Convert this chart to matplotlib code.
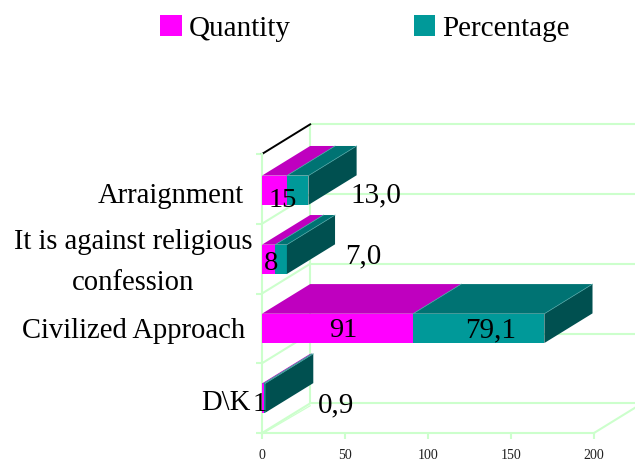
import matplotlib
matplotlib.use("Agg")
import matplotlib.pyplot as plt
from matplotlib.patches import Polygon, Patch

plt.rcParams['font.family'] = ['Liberation Serif', 'DejaVu Serif']

categories = ["D\\K", "Civilized Approach", "It is against religious\nconfession", "Arraignment"]
quantity = [1, 91, 8, 15]
percentage = [0.9, 79.1, 7.0, 13.0]
quantity_labels = ["1", "91", "8", "15"]
percentage_labels = ["0,9", "79,1", "7,0", "13,0"]
x_ticks = [0, 50, 100, 150, 200]

W, H = 635, 462
GREEN = "#CCFFCC"
MAG, MAG_TOP = "#FF00FF", "#BF00BF"
TEAL, TEAL_TOP, TEAL_SIDE = "#009999", "#007373", "#005050"
DX, DY = 29.0, 0.425     # 3-D depth in data units
BAR_H = 0.42

fig = plt.figure(figsize=(W / 100, H / 100), dpi=100, facecolor="white")
ax = fig.add_axes([262 / W, (H - 433) / H, (594 - 262) / W, (433 - 154) / H])
ax.set_xlim(0, 200)
ax.set_ylim(-0.5, 3.5)
ax.patch.set_visible(False)
for s in ("top", "right"):
    ax.spines[s].set_visible(False)
for s in ("left", "bottom"):
    ax.spines[s].set_color(GREEN)
    ax.spines[s].set_linewidth(1.5)
ax.set_xticks(x_ticks)
ax.set_xticklabels([str(t) for t in x_ticks], fontsize=10, color="#202020")
ax.set_yticks([-0.5, 0.5, 1.5, 2.5, 3.5])
ax.set_yticklabels([])
ax.tick_params(axis="both", color=GREEN, width=1.5, length=4)
ax.tick_params(axis="x", pad=7.5)

line = dict(color=GREEN, lw=1.5, clip_on=False, zorder=1, solid_capstyle="butt")
# back wall
ax.plot([DX, DX], [-0.5 + DY, 3.5 + DY], **line)
for y in [-0.5, 0.5, 1.5, 2.5, 3.5]:
    ax.plot([DX, 200 + DX], [y + DY, y + DY], **line)
    if y < 3.5:
        ax.plot([0, DX], [y, y + DY], **line)
# floor: right edge and doubled left edge
ax.plot([200, 200 + DX], [-0.5, -0.5 + DY], **line)
ax.plot([1.0, DX], [-0.5, -0.5 + DY - 0.035], color=GREEN, lw=0.9, zorder=1, clip_on=False)
ax.plot([0, DX], [3.5, 3.5 + DY], color="black", lw=1.4, clip_on=False, zorder=2)


def box(x0, x1, y, front, top, side=None, z=3):
    y0, y1 = y - BAR_H / 2, y + BAR_H / 2
    ax.add_patch(Polygon([(x0, y0), (x1, y0), (x1, y1), (x0, y1)], fc=front, ec="none", zorder=z, clip_on=False))
    ax.add_patch(Polygon([(x0, y1), (x1, y1), (x1 + DX, y1 + DY), (x0 + DX, y1 + DY)], fc=top, ec="none", zorder=z, clip_on=False))
    if side:
        ax.add_patch(Polygon([(x1, y0), (x1, y1), (x1 + DX, y1 + DY), (x1 + DX, y0 + DY)], fc=side, ec="none", zorder=z, clip_on=False))
    ax.plot([x1, x1 + DX], [y1, y1 + DY], color="#4AA5A5", lw=0.5, zorder=z + 0.1, clip_on=False)


# slots are not perfectly even in the original drawing: small pixel nudges
bar_nudge = [0.0, 0.0, -0.01, -0.02]
for i, (q, p) in enumerate(zip(quantity, percentage)):
    y = i + bar_nudge[i]
    box(0, q, y, MAG, MAG_TOP)
    box(q, q + p, y, TEAL, TEAL_TOP, TEAL_SIDE)

# text placement, pixel offsets from each category's axis position
cat_anchor = [(-11, -5), (-17, -3), (-10, -4), (-18, -7)]
cat_spacing = 1.72
q_offsets = [(-2, -6), (81, -2), (9, -5), (21, -12)]
p_offsets = [(74, -7), (229, -2), (101, 2), (114, -7)]


def place(txt, i, off, size, ha="center", **kw):
    ax.annotate(txt, xy=(0, i), xycoords="data", xytext=off, textcoords="offset pixels",
                ha=ha, va="center", fontsize=size, color="black", zorder=10,
                annotation_clip=False, **kw)


for i, c in enumerate(categories):
    place(c, i, cat_anchor[i], 20.6, ha="right", multialignment="center", linespacing=cat_spacing)
    place(quantity_labels[i], i, q_offsets[i], 20.5)
    place(percentage_labels[i], i, p_offsets[i], 21)

fig.legend(handles=[Patch(fc=MAG, label="Quantity"), Patch(fc=TEAL, label="Percentage")],
           loc="upper left", bbox_to_anchor=(154 / W, 1 - 9 / H), ncol=2, frameon=False,
           fontsize=21, handlelength=0.75, handleheight=0.75, handletextpad=0.25,
           columnspacing=4.2, borderaxespad=0, borderpad=0.2)

fig.savefig("out.png", dpi=100, facecolor="white")
